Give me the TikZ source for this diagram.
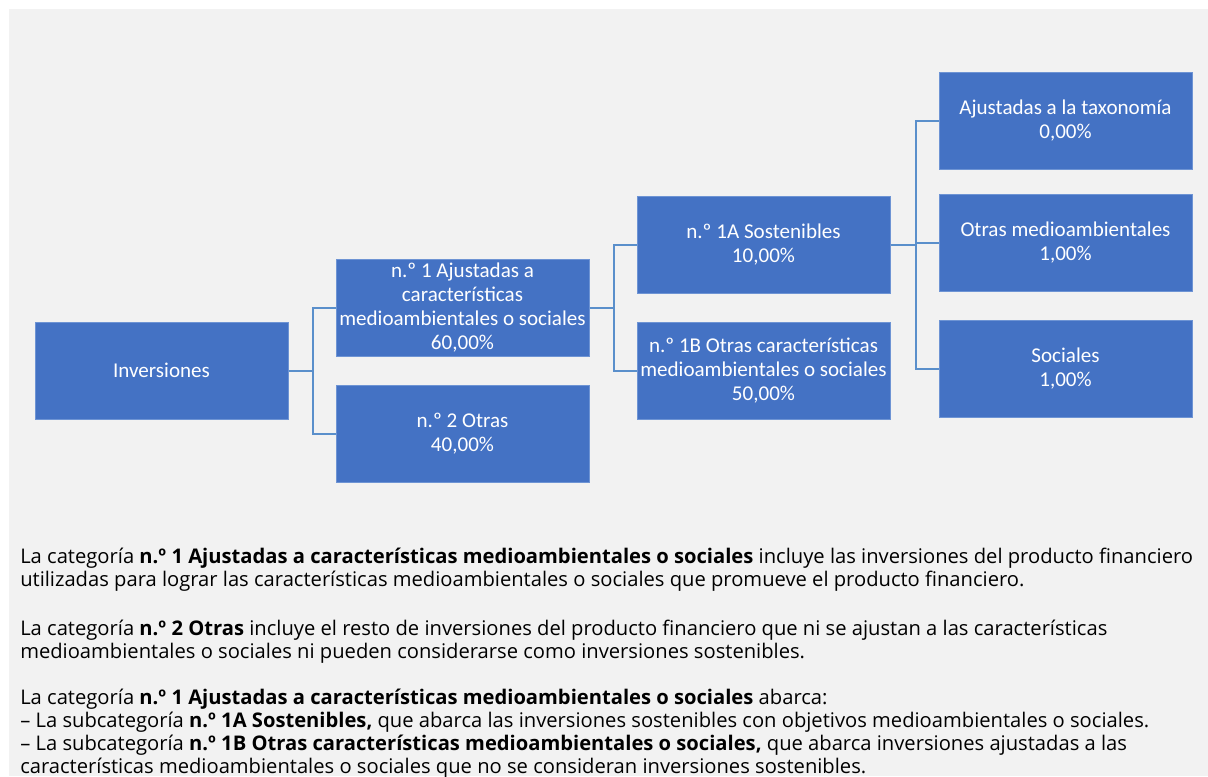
\documentclass[tikz,border=0pt]{standalone}
\usepackage{fontspec}
\setmainfont{Open Sans}
\newfontfamily\boxfont{Carlito}
\definecolor{bgray}{HTML}{F2F2F2}
\definecolor{boxblue}{HTML}{4472C4}
\definecolor{boxedge}{HTML}{6E94D4}
\definecolor{linkblue}{HTML}{5A8FCB}
\begin{document}
\begin{tikzpicture}[x=0.75pt,y=-0.75pt,
  catbox/.style={rectangle,fill=boxblue,draw=boxedge,line width=0.75pt,
    minimum width=189.75pt,minimum height=72.75pt,inner sep=1pt,
    text=white,align=center,font=\boxfont\fontsize{15.8pt}{18pt}\selectfont},
  link/.style={draw=linkblue,line width=1.5pt},
  para/.style={anchor=base west,inner sep=0pt,font=\fontsize{15.13pt}{17pt}\selectfont,text=black}]
\useasboundingbox (0,0) rectangle (1208,776);
\fill[bgray] (9,9) rectangle (1208,776);
\node[catbox] (inv) at (161.5,370.5) {Inversiones};
\node[catbox] (n1) at (462.5,307.5) {n.º 1 Ajustadas a\\características\\medioambientales o sociales\\60,00\%};
\node[catbox] (n2) at (462.5,433.5) {n.º 2 Otras\\40,00\%};
\node[catbox] (a1) at (763.5,244.5) {n.º 1A Sostenibles\\10,00\%};
\node[catbox] (b1) at (763.5,370.5) {n.º 1B Otras características\\medioambientales o sociales\\50,00\%};
\node[catbox] (tax) at (1065.5,120.5) {Ajustadas a la taxonomía\\0,00\%};
\node[catbox] (oma) at (1065.5,242.5) {Otras medioambientales\\1,00\%};
\node[catbox] (soc) at (1065.5,368.5) {Sociales\\1,00\%};
\draw[link] (inv.east) -- ++(24,0) |- (n1.west);
\draw[link] (inv.east) -- ++(24,0) |- (n2.west);
\draw[link] (n1.east) -- ++(24,0) |- (a1.west);
\draw[link] (n1.east) -- ++(24,0) |- (b1.west);
\draw[link] (a1.east) -- ++(25,0) |- (tax.west);
\draw[link] (a1.east) -- ++(25,0) |- (oma.west);
\draw[link] (a1.east) -- ++(25,0) |- (soc.west);
\node[para] (p1) at (20,563) {La categoría \textbf{n.º 1 Ajustadas a características medioambientales o sociales} incluye las inversiones del producto financiero};
\node[para] (p2) at (20,586) {utilizadas para lograr las características medioambientales o sociales que promueve el producto financiero.};
\node[para] (p3) at (20,635) {La categoría \textbf{n.º 2 Otras} incluye el resto de inversiones del producto financiero que ni se ajustan a las características};
\node[para] (p4) at (20,658) {medioambientales o sociales ni pueden considerarse como inversiones sostenibles.};
\node[para] (p5) at (20,704) {La categoría \textbf{n.º 1 Ajustadas a características medioambientales o sociales} abarca:};
\node[para] (p6) at (20,727) {– La subcategoría \textbf{n.º 1A Sostenibles,} que abarca las inversiones sostenibles con objetivos medioambientales o sociales.};
\node[para] (p7) at (20,750) {– La subcategoría \textbf{n.º 1B Otras características medioambientales o sociales,} que abarca inversiones ajustadas a las};
\node[para] (p8) at (20,773) {características medioambientales o sociales que no se consideran inversiones sostenibles.};
\end{tikzpicture}
\end{document}
